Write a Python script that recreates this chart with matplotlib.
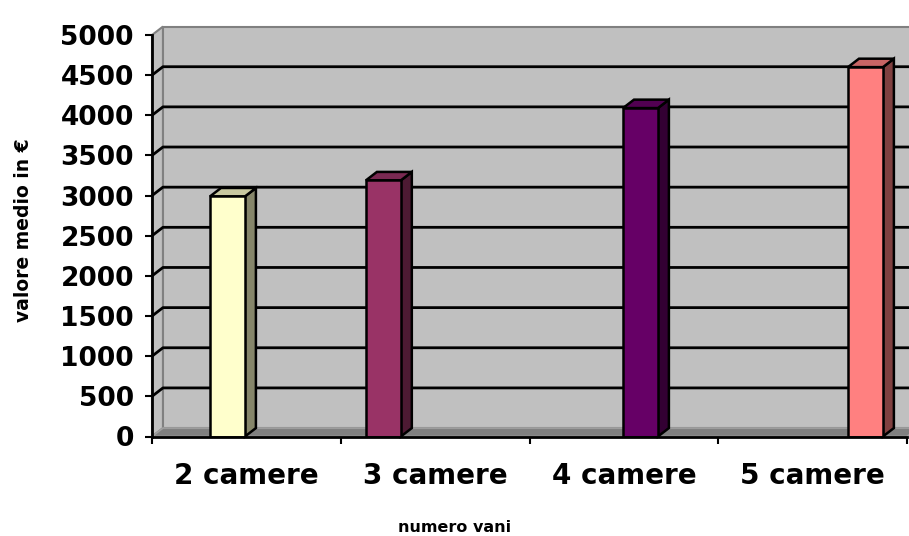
import numpy as np
import matplotlib
matplotlib.use("Agg")
import matplotlib.pyplot as plt
from matplotlib.patches import Polygon, Rectangle

# ============================================================
# DATA
# ============================================================
categories = ["2 camere", "3 camere", "4 camere", "5 camere"]
values = [2990, 3190, 4090, 4600]
y_ticks = list(range(0, 5001, 500))

# per-bar styling (front, side, top) and position inside its category
front_colors = ["#FFFFCC", "#993366", "#660066", "#FF8080"]
side_colors = ["#86866A", "#4D1A33", "#330033", "#804040"]
top_colors = ["#C8C8A0", "#7A2952", "#520052", "#C86464"]
bar_shift = [-0.10, -0.274, 0.088, 0.28]
bar_width = 0.185

# fake 3d depth in data units
DX = 0.058
DY = 105
YMAX = 5000
NCAT = len(categories)

# ============================================================
# FIGURE
# ============================================================
fig = plt.figure(figsize=(9.09, 5.36), dpi=100)
ax = fig.add_axes([152 / 909, 99.5 / 536, 755 / 909, 401.5 / 536])
ax.set_xlim(0, NCAT)
ax.set_ylim(0, YMAX)
ax.set_facecolor("none")

# back wall, left wall, floor
ax.add_patch(Rectangle((DX, DY), NCAT, YMAX, fc="#C0C0C0", ec="#808080",
                       lw=1.5, clip_on=False, zorder=0))
ax.add_patch(Polygon([(0, 0), (DX, DY), (DX, YMAX + DY), (0, YMAX)],
                     closed=True, fc="#C0C0C0", ec="#808080", lw=1.5,
                     clip_on=False, zorder=0.5))
ax.add_patch(Polygon([(0, 0), (DX, DY), (NCAT + DX, DY), (NCAT, 0)],
                     closed=True, fc="#808080", ec="#A0A0A0", lw=1.2,
                     clip_on=False, zorder=0.5))

# gridlines on walls
for v in y_ticks[1:-1]:
    ax.plot([0, DX, NCAT + DX], [v, v + DY, v + DY], color="black", lw=2,
            clip_on=False, zorder=1, solid_capstyle="butt")

# bars
x_pos = np.arange(NCAT) + 0.5 + np.array(bar_shift)
ax.bar(x_pos, values, width=bar_width, color=front_colors, edgecolor="black",
       linewidth=1.8, zorder=4)
for x, v, sc, tc in zip(x_pos, values, side_colors, top_colors):
    l, r = x - bar_width / 2, x + bar_width / 2
    ax.add_patch(Polygon([(r, 0), (r + DX, DY), (r + DX, v + DY), (r, v)],
                         closed=True, fc=sc, ec="black", lw=1.8,
                         clip_on=False, zorder=3))
    ax.add_patch(Polygon([(l, v), (l + DX, v + DY), (r + DX, v + DY), (r, v)],
                         closed=True, fc=tc, ec="black", lw=1.8,
                         clip_on=False, zorder=3))

# ============================================================
# AXES / TEXT
# ============================================================
for s in ["top", "right"]:
    ax.spines[s].set_visible(False)
for s in ["left", "bottom"]:
    ax.spines[s].set_linewidth(2)
    ax.spines[s].set_zorder(5)

ax.set_yticks(y_ticks)
ax.set_yticklabels([str(t) for t in y_ticks], fontsize=19, fontweight="bold")
ax.tick_params(axis="y", length=5, width=1.5, pad=8)

ax.set_xticks(np.arange(NCAT + 1))
ax.set_xticklabels([])
ax.set_xticks(np.arange(NCAT) + 0.5, minor=True)
ax.set_xticklabels(categories, minor=True, fontsize=20, fontweight="bold")
ax.tick_params(axis="x", which="major", length=5, width=1.5)
ax.tick_params(axis="x", which="minor", length=0, pad=18)

fig.text(455 / 909, 1 - 527 / 536, "numero vani", ha="center", va="center",
         fontsize=11.5, fontweight="bold")
fig.text(24 / 909, 1 - 230 / 536, "valore medio in €", ha="center",
         va="center", rotation=90, fontsize=13.5, fontweight="bold")

fig.savefig("out.png", dpi=100)
